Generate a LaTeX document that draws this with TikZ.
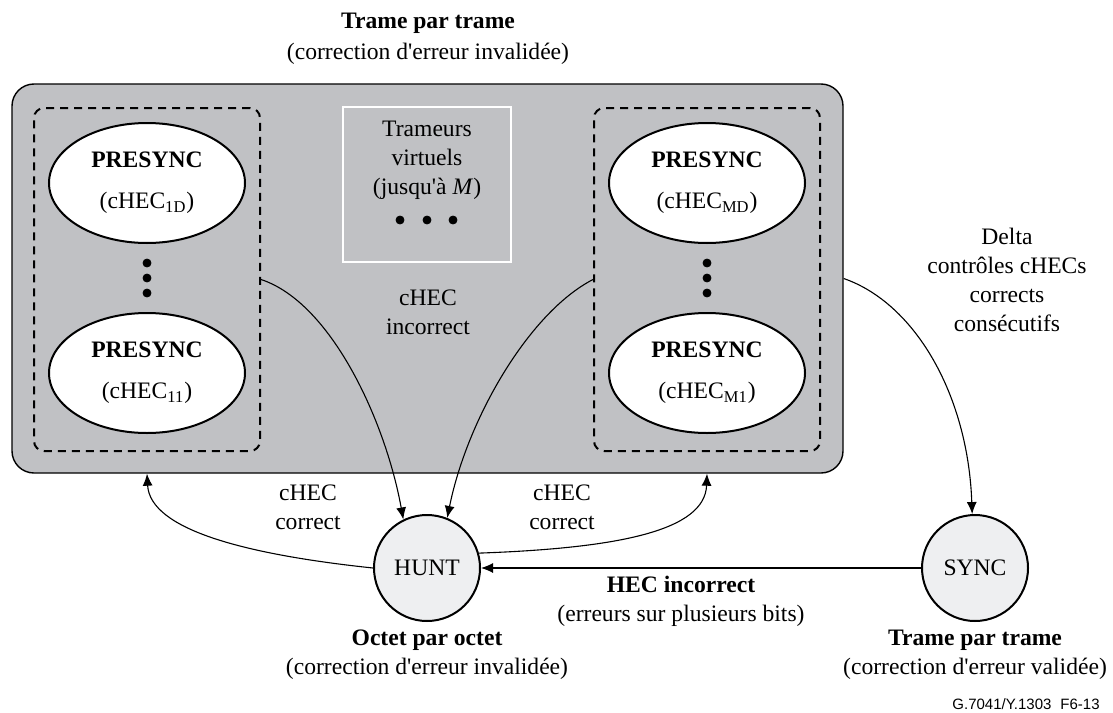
\documentclass[tikz,border=0pt]{standalone}
\usepackage{fontspec}
\setmainfont{Liberation Serif}[Ligatures=TeXOff]
\newfontfamily\figfont{Liberation Sans}
\usetikzlibrary{positioning,shapes.geometric,arrows.meta}
\definecolor{boxgray}{RGB}{192,193,196}
\definecolor{stategray}{RGB}{238,239,241}

\begin{document}
\begin{tikzpicture}[
	x=0.5pt, y=-0.5pt,
	>={Latex[length=6pt,width=5pt]},
	font=\fontsize{11.8}{14.5}\selectfont,
	bigbox/.style={draw, line width=0.7pt, fill=boxgray, rounded corners=11pt, minimum width=415.5pt, minimum height=194.5pt},
	grpbox/.style={draw, line width=1pt, dash pattern=on 4pt off 3pt, rounded corners=5pt, minimum width=113pt, minimum height=171.5pt},
	virtbox/.style={draw=white, line width=0.9pt, minimum width=84pt, minimum height=77.5pt},
	presync/.style={ellipse, draw, line width=1pt, fill=white, minimum width=98pt, minimum height=60pt, inner sep=0pt, align=center},
	state/.style={circle, draw, line width=1pt, fill=stategray, minimum size=53pt, inner sep=0pt},
	lbl/.style={align=center, inner sep=0pt},
	conn/.style={->, line width=0.55pt}]
	\useasboundingbox (0,0) rectangle (1113,712);

	\node[lbl] (title) at (428,39) {\textbf{Trame par trame}\\[1pt](correction d'erreur invalidée)};
	\node[bigbox] (frame) at (427.5,278.5) {};
	\node[grpbox] (lgrp) at (147,279.5) {};
	\node[grpbox] (rgrp) at (707,279.5) {};

	\node[presync] (p1d) at (147,183) {\textbf{PRESYNC}\\[6pt](cHEC\textsubscript{1D})};
	\node[presync] (p11) at (147,373) {\textbf{PRESYNC}\\[6pt](cHEC\textsubscript{11})};
	\node[presync] (pmd) at (707,183) {\textbf{PRESYNC}\\[6pt](cHEC\textsubscript{MD})};
	\node[presync] (pm1) at (707,373) {\textbf{PRESYNC}\\[6pt](cHEC\textsubscript{M1})};
	\filldraw[black] (147,263) circle (2pt);
	\filldraw[black] (147,278) circle (2pt);
	\filldraw[black] (147,293) circle (2pt);
	\filldraw[black] (707,263) circle (2pt);
	\filldraw[black] (707,278) circle (2pt);
	\filldraw[black] (707,293) circle (2pt);

	\node[virtbox] (virt) at (427,184.5) {};
	\node[lbl] (virttxt) at (427,160) {Trameurs\\virtuels\\(jusqu'à \textit{M})};
	\filldraw[black] (400,220) circle (2pt);
	\filldraw[black] (427,220) circle (2pt);
	\filldraw[black] (453,220) circle (2pt);
	\node[lbl] (incor) at (428,312) {cHEC\\incorrect};

	\node[state] (hunt) at (427,568) {HUNT};
	\node[state] (sync) at (975,568) {SYNC};

	\draw[conn] (lgrp.east) .. controls +(70,23) and +(-18,-99) .. (hunt.116);
	\draw[conn] (rgrp.west) .. controls +(-64,33) and +(20,-99) .. (hunt.68);
	\draw[conn] (frame.east) .. controls +(72,25) and +(-4,-118) .. (sync.93);
	\draw[conn] (hunt.west) .. controls +(-123,-13) and +(3,57) .. (lgrp |- frame.south);
	\draw[conn] (hunt.16) .. controls +(140,-5) and +(-2,57) .. (rgrp |- frame.south);
	\draw[conn] (sync.west) -- (hunt.east);

	\node[lbl] (lcorr) at (308,507) {cHEC\\correct};
	\node[lbl] (rcorr) at (562,507) {cHEC\\correct};
	\node[lbl] (delta) at (1007,280) {Delta\\contrôles cHECs\\corrects\\consécutifs};
	\node[lbl] (hecinc) at (681,601) {\textbf{HEC incorrect}\\(erreurs sur plusieurs bits)};
	\node[lbl] (huntlbl) at (427,655) {\textbf{Octet par octet}\\(correction d'erreur invalidée)};
	\node[lbl] (synclbl) at (975,655) {\textbf{Trame par trame}\\(correction d'erreur validée)};
	\node[lbl, anchor=east, font=\figfont\fontsize{7.5}{9}\selectfont] (figref) at (1100,704) {G.7041/Y.1303\hspace{0.6em}F6-13};
\end{tikzpicture}
\end{document}
